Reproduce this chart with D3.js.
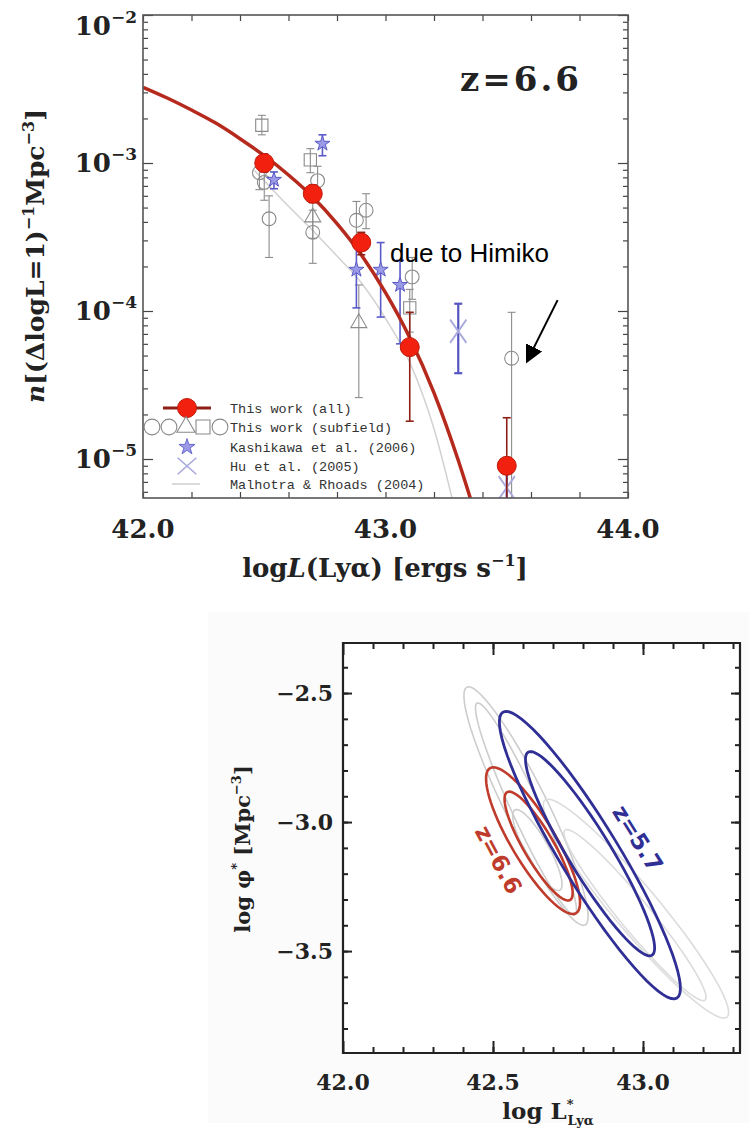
<!DOCTYPE html>
<html>
<head>
<meta charset="utf-8">
<script src="https://cdn.jsdelivr.net/npm/d3@7"></script>
<style>
  body { margin: 0; background: #fff; }
  svg { display: block; }
</style>
</head>
<body>
<script>
// ---------- top panel data: Lya luminosity function at z=6.6 ----------
const allLum = [42.5, 42.7, 42.9, 43.1, 43.5];
const allN = [1.0e-3, 6.2e-4, 2.9e-4, 5.7e-5, 9.0e-6];
const allLo = [8.7e-4, 5.4e-4, 2.4e-4, 1.8e-5, 1e-6];
const allHi = [1.15e-3, 7.1e-4, 3.4e-4, 9.8e-5, 1.9e-5];

const subShape = ['square', 'circle', 'circle', 'circle',
  'square', 'circle', 'triangle', 'circle',
  'circle', 'circle', 'triangle',
  'circle', 'square', 'circle'];
const subLum = [42.49, 42.48, 42.50, 42.52,
  42.69, 42.72, 42.70, 42.70,
  42.92, 42.88, 42.89,
  43.11, 43.10, 43.52];
const subN = [1.8e-3, 8.6e-4, 7.4e-4, 4.2e-4,
  1.05e-3, 7.6e-4, 4.3e-4, 3.4e-4,
  4.8e-4, 4.1e-4, 8.3e-5,
  1.7e-4, 1.05e-4, 4.8e-5];
const subLo = [1.55e-3, 6.6e-4, 5.6e-4, 2.3e-4,
  8.6e-4, 6.0e-4, 3.1e-4, 2.1e-4,
  3.6e-4, 3.0e-4, 2.6e-5,
  1.2e-4, 7.2e-5, 1e-6];
const subHi = [2.1e-3, 1.08e-3, 9.4e-4, 6.0e-4,
  1.25e-3, 9.5e-4, 5.5e-4, 4.8e-4,
  6.2e-4, 5.5e-4, 1.5e-4,
  2.3e-4, 1.4e-4, 9.8e-5];

const kashLum = [42.54, 42.74, 42.88, 42.98, 43.06];
const kashN = [7.7e-4, 1.35e-3, 1.9e-4, 1.9e-4, 1.5e-4];
const kashLo = [6.7e-4, 1.12e-3, 1.05e-4, 9.1e-5, 6.0e-5];
const kashHi = [8.7e-4, 1.55e-3, 3.0e-4, 2.9e-4, 2.2e-4];

const huLum = [43.30, 43.50];
const huN = [7.3e-5, 6.4e-6];
const huLo = [3.8e-5, 4.5e-6];
const huHi = [1.12e-4, 8.0e-6];

// best-fit curve (this work)
const fitLum = [42.0, 42.1, 42.2, 42.3, 42.4, 42.5, 42.6, 42.7, 42.8, 42.9, 43.0, 43.1, 43.2, 43.3, 43.36];
const fitN = [3.25e-3, 2.75e-3, 2.28e-3, 1.86e-3, 1.46e-3, 1.12e-3, 8.3e-4, 5.9e-4, 3.9e-4, 2.4e-4,
  1.33e-4, 6.6e-5, 2.8e-5, 9.8e-6, 4.8e-6];

// Malhotra & Rhoads (2004)
const mrLum = [42.46, 42.6, 42.7, 42.8, 42.9, 43.0, 43.1, 43.2, 43.28];
const mrN = [8.9e-4, 5.1e-4, 3.5e-4, 2.35e-4, 1.55e-4, 8.9e-5, 4.5e-5, 1.6e-5, 5.0e-6];

const yDecades = [1e-5, 1e-4, 1e-3, 1e-2];
const yDecadeExp = ['−5', '−4', '−3', '−2'];
const xLabelsTop = [42, 43, 44];

// ---------- bottom panel data: error contours of L* and phi* ----------
const contourSet = ['alt66', 'alt66', 'alt66', 'alt57', 'alt57',
  'z66', 'z66', 'z57', 'z57'];
const contourTipA = [[42.413, -2.477], [42.447, -2.539], [42.573, -2.953], [42.673, -2.915], [42.740, -3.031],
  [42.490, -2.791], [42.547, -2.884], [42.533, -2.574], [42.617, -2.729]];
const contourTipB = [[42.807, -3.399], [42.773, -3.360], [42.723, -3.264], [43.280, -3.756], [43.207, -3.690],
  [42.777, -3.353], [42.757, -3.302], [43.113, -3.682], [43.030, -3.516]];
const contourRatio = [0.16, 0.12, 0.25, 0.16, 0.14, 0.26, 0.24, 0.175, 0.18];

const xTicksBottom = [42.0, 42.5, 43.0];
const yTicksBottom = [-2.5, -3.0, -3.5];

// ---------- svg ----------
const W = 749, H = 1133;
const svg = d3.select('body').append('svg').attr('width', W).attr('height', H)
  .attr('font-family', '"DejaVu Serif", serif');

// ================= top panel =================
const tp = { left: 143, right: 628, top: 15, bottom: 498 };
const x1 = d3.scaleLinear().domain([42, 44]).range([tp.left, tp.right]);
const y1 = d3.scaleLog().domain([Math.pow(10, -5.2635), 1e-2]).range([tp.bottom, tp.top]);

svg.append('clipPath').attr('id', 'clipTop')
  .append('rect').attr('x', tp.left).attr('y', tp.top)
  .attr('width', tp.right - tp.left).attr('height', tp.bottom - tp.top);

const topG = svg.append('g');
const plot = topG.append('g').attr('clip-path', 'url(#clipTop)');

// minor log ticks
const yMinor = [];
for (let d = -6; d <= -3; d++) {
  for (let k = 2; k <= 9; k++) {
    const v = k * Math.pow(10, d);
    if (v > y1.domain()[0] && v < 1e-2) yMinor.push(v);
  }
}
const xMinor = d3.range(42, 44.001, 0.2);

function axisG(gen, tx, ty) {
  const g = topG.append('g').attr('transform', `translate(${tx},${ty})`).call(gen);
  g.select('.domain').remove();
  g.selectAll('line').attr('stroke', '#444').attr('stroke-width', 1.2);
  g.selectAll('text').remove();
  return g;
}
axisG(d3.axisBottom(x1).tickValues(xMinor).tickSize(-6), 0, tp.bottom);
axisG(d3.axisTop(x1).tickValues(xMinor).tickSize(-6), 0, tp.top);
axisG(d3.axisLeft(y1).tickValues(yMinor).tickSize(-5), tp.left, 0);
axisG(d3.axisLeft(y1).tickValues(yDecades).tickSize(-10), tp.left, 0);
axisG(d3.axisRight(y1).tickValues(yMinor).tickSize(-5), tp.right, 0);
axisG(d3.axisRight(y1).tickValues(yDecades).tickSize(-10), tp.right, 0);

topG.append('rect')
  .attr('x', tp.left).attr('y', tp.top)
  .attr('width', tp.right - tp.left).attr('height', tp.bottom - tp.top)
  .attr('fill', 'none').attr('stroke', '#555').attr('stroke-width', 1.6);

// tick labels
topG.selectAll('.xl').data(xLabelsTop).enter().append('text')
  .attr('x', d => x1(d)).attr('y', 538).attr('fill', '#222')
  .attr('text-anchor', 'middle').attr('font-size', 26).attr('font-weight', 'bold')
  .text(d => d.toFixed(1));

// the top label sits below its tick so it stays inside the page
const yl = topG.selectAll('.yl').data(yDecades).enter().append('text')
  .attr('x', 137).attr('y', d => d === 1e-2 ? y1(d) + 20 : y1(d) + 9).attr('fill', '#222')
  .attr('text-anchor', 'end').attr('font-size', 26).attr('font-weight', 'bold');
yl.append('tspan').text('10');
yl.append('tspan').attr('dy', -12).attr('font-size', 17).text((d, i) => yDecadeExp[i]);

// axis titles
const ytitle = topG.append('text')
  .attr('transform', 'translate(44,256) rotate(-90)').attr('fill', '#222')
  .attr('text-anchor', 'middle').attr('font-size', 25).attr('font-weight', 'bold');
ytitle.append('tspan').attr('font-style', 'italic').text('n');
ytitle.append('tspan').text('[(ΔlogL=1)');
ytitle.append('tspan').attr('dy', -10).attr('font-size', 16).text('−1');
ytitle.append('tspan').attr('dy', 10).text('Mpc');
ytitle.append('tspan').attr('dy', -10).attr('font-size', 16).text('−3');
ytitle.append('tspan').attr('dy', 10).text(']');

const xtitle = topG.append('text')
  .attr('x', 385).attr('y', 577).attr('fill', '#222')
  .attr('text-anchor', 'middle').attr('font-size', 26).attr('font-weight', 'bold');
xtitle.append('tspan').text('log');
xtitle.append('tspan').attr('font-style', 'italic').text('L');
xtitle.append('tspan').text('(Lyα) [ergs s');
xtitle.append('tspan').attr('dy', -11).attr('font-size', 16).text('−1');
xtitle.append('tspan').attr('dy', 11).text(']');

topG.append('text')
  .attr('x', 460).attr('y', 91).attr('fill', '#222')
  .attr('font-size', 34).attr('font-weight', 'bold').attr('letter-spacing', 3)
  .text('z=6.6');

// Malhotra & Rhoads line
const line1 = d3.line().x(d => x1(d[0])).y(d => y1(d[1])).curve(d3.curveMonotoneX);
plot.append('path')
  .attr('d', line1(d3.zip(mrLum, mrN)))
  .attr('fill', 'none').attr('stroke', '#d2d2d2').attr('stroke-width', 1.5);

function errBars(g, lum, lo, hi, color, sw) {
  const eg = g.append('g').attr('stroke', color).attr('stroke-width', sw);
  lum.forEach((l, i) => {
    const xx = x1(l);
    eg.append('line').attr('x1', xx).attr('x2', xx).attr('y1', y1(lo[i])).attr('y2', y1(hi[i]));
    eg.append('line').attr('x1', xx - 4).attr('x2', xx + 4).attr('y1', y1(lo[i])).attr('y2', y1(lo[i]));
    eg.append('line').attr('x1', xx - 4).attr('x2', xx + 4).attr('y1', y1(hi[i])).attr('y2', y1(hi[i]));
  });
}

const shapeSym = { circle: d3.symbolCircle, square: d3.symbolSquare, triangle: d3.symbolTriangle };
const shapeSize = { circle: 150, square: 150, triangle: 110 };

// subfield points
errBars(plot, subLum, subLo, subHi, '#8c8c8c', 1.1);
plot.selectAll('.sub').data(subLum).enter().append('path')
  .attr('transform', (d, i) => `translate(${x1(d)},${y1(subN[i])})`)
  .attr('d', (d, i) => d3.symbol(shapeSym[subShape[i]], shapeSize[subShape[i]])())
  .attr('fill', 'none').attr('stroke', '#8a8a8a').attr('stroke-width', 1.1);

// Kashikawa
errBars(plot, kashLum, kashLo, kashHi, '#5a5ac8', 1.6);
plot.selectAll('.kash').data(kashLum).enter().append('path')
  .attr('transform', (d, i) => `translate(${x1(d)},${y1(kashN[i])})`)
  .attr('d', d3.symbol(d3.symbolStar, 70)())
  .attr('fill', '#9a9ae6').attr('stroke', '#5a5ac8').attr('stroke-width', 1);

// Hu
errBars(plot, huLum, huLo, huHi, '#5555c0', 2.2);
plot.selectAll('.hu').data(huLum).enter().append('path')
  .attr('transform', (d, i) => `translate(${x1(d)},${y1(huN[i])}) scale(1.4,2)`)
  .attr('d', d3.symbol(d3.symbolTimes, 90)())
  .attr('fill', 'none').attr('stroke', '#aaaadd').attr('stroke-width', 1.2);

// best fit
plot.append('path')
  .attr('d', line1(d3.zip(fitLum, fitN)))
  .attr('fill', 'none').attr('stroke', '#b52a1c').attr('stroke-width', 3.5);

// this work (all)
errBars(plot, allLum, allLo, allHi, '#8e1f14', 1.6);
plot.selectAll('.all').data(allLum).enter().append('circle')
  .attr('cx', d => x1(d)).attr('cy', (d, i) => y1(allN[i])).attr('r', 9.5)
  .attr('fill', '#f2200e').attr('stroke', '#c01a0a').attr('stroke-width', 1);

// legend
const lg = topG.append('g');
const lgY = [408, 427, 447, 466, 484];
const lgText = ['This work (all)', 'This work (subfield)', 'Kashikawa et al. (2006)', 'Hu et al. (2005)', 'Malhotra & Rhoads (2004)'];
lg.selectAll('text').data(lgText).enter().append('text')
  .attr('x', 230).attr('y', (d, i) => lgY[i] + 5)
  .attr('font-family', '"Liberation Mono", monospace')
  .attr('font-size', 13.5).attr('fill', '#333')
  .text(d => d);
lg.append('line').attr('x1', 163).attr('x2', 211).attr('y1', lgY[0]).attr('y2', lgY[0])
  .attr('stroke', '#8e1f14').attr('stroke-width', 3);
lg.append('circle').attr('cx', 187).attr('cy', lgY[0]).attr('r', 9.5)
  .attr('fill', '#f2200e').attr('stroke', '#c01a0a');
const lgShapes = ['circle', 'circle', 'triangle', 'square', 'circle'];
lgShapes.forEach((s, i) => {
  lg.append('path').attr('transform', `translate(${152 + i * 17},${lgY[1]})`)
    .attr('d', d3.symbol(shapeSym[s], shapeSize[s] * 1.3)())
    .attr('fill', 'none').attr('stroke', '#8a8a8a').attr('stroke-width', 1.1);
});
lg.append('path').attr('transform', `translate(187,${lgY[2]})`)
  .attr('d', d3.symbol(d3.symbolStar, 80)())
  .attr('fill', '#9a9ae6').attr('stroke', '#6a6ad0');
lg.append('path').attr('transform', `translate(187,${lgY[3]}) scale(1.6,1.4)`)
  .attr('d', d3.symbol(d3.symbolTimes, 90)())
  .attr('fill', 'none').attr('stroke', '#aaaadd').attr('stroke-width', 1);
lg.append('line').attr('x1', 172).attr('x2', 200).attr('y1', lgY[4]).attr('y2', lgY[4])
  .attr('stroke', '#cfcfcf').attr('stroke-width', 1.5);

// annotation
svg.append('defs').append('marker')
  .attr('id', 'arrow').attr('viewBox', '0 0 10 10').attr('refX', 8).attr('refY', 5)
  .attr('markerWidth', 18).attr('markerHeight', 18).attr('markerUnits', 'userSpaceOnUse')
  .attr('orient', 'auto')
  .append('path').attr('d', 'M0,0 L10,5 L0,10 z').attr('fill', '#000');
const hx = x1(subLum[13]), hy = y1(subN[13]);
topG.append('line')
  .attr('x1', hx + 46).attr('y1', hy - 58).attr('x2', hx + 16).attr('y2', hy + 2)
  .attr('stroke', '#000').attr('stroke-width', 2).attr('marker-end', 'url(#arrow)');
topG.append('text')
  .attr('x', 390).attr('y', 262)
  .attr('font-family', '"Liberation Sans", Arial, sans-serif')
  .attr('font-size', 26).attr('fill', '#000')
  .text('due to Himiko');

// ================= bottom panel =================
svg.append('rect').attr('x', 208).attr('y', 612).attr('width', W - 208).attr('height', 511)
  .attr('fill', '#fbfbfb');

const bp = { left: 343, right: 740, top: 643, bottom: 1053 };
const x2 = d3.scaleLinear().domain([42, 42 + (bp.right - bp.left) / 300]).range([bp.left, bp.right]);
const y2 = d3.scaleLinear().domain([-3.895, -2.306]).range([bp.bottom, bp.top]);

const botG = svg.append('g');
botG.append('rect')
  .attr('x', bp.left).attr('y', bp.top)
  .attr('width', bp.right - bp.left).attr('height', bp.bottom - bp.top)
  .attr('fill', '#fff');

svg.append('clipPath').attr('id', 'clipBot')
  .append('rect').attr('x', bp.left).attr('y', bp.top)
  .attr('width', bp.right - bp.left).attr('height', bp.bottom - bp.top);

function axisB(gen, tx, ty) {
  const g = botG.append('g').attr('transform', `translate(${tx},${ty})`).call(gen);
  g.select('.domain').remove();
  g.selectAll('line').attr('stroke', '#222').attr('stroke-width', 2);
  g.selectAll('text').remove();
}
const bxMinor = d3.range(42.1, 43.31, 0.1);
const byMinor = d3.range(-3.8, -2.35, 0.1);
axisB(d3.axisBottom(x2).tickValues(bxMinor).tickSize(-6), 0, bp.bottom);
axisB(d3.axisBottom(x2).tickValues(xTicksBottom).tickSize(-12), 0, bp.bottom);
axisB(d3.axisTop(x2).tickValues(bxMinor).tickSize(-6), 0, bp.top);
axisB(d3.axisTop(x2).tickValues(xTicksBottom).tickSize(-12), 0, bp.top);
axisB(d3.axisLeft(y2).tickValues(byMinor).tickSize(-5), bp.left, 0);
axisB(d3.axisLeft(y2).tickValues(yTicksBottom).tickSize(-9), bp.left, 0);
axisB(d3.axisRight(y2).tickValues(byMinor).tickSize(-5), bp.right, 0);
axisB(d3.axisRight(y2).tickValues(yTicksBottom).tickSize(-9), bp.right, 0);

botG.append('path')
  .attr('d', `M${bp.left},${bp.top}H${bp.right}V${bp.bottom}H${bp.left}Z`)
  .attr('fill', 'none').attr('stroke', '#222').attr('stroke-width', 2.2);

botG.selectAll('.bxl').data(xTicksBottom).enter().append('text')
  .attr('x', d => x2(d)).attr('y', 1090).attr('fill', '#222')
  .attr('text-anchor', 'middle').attr('font-size', 22).attr('font-weight', 'bold')
  .text(d => d.toFixed(1));
botG.selectAll('.byl').data(yTicksBottom).enter().append('text')
  .attr('x', 333).attr('y', d => y2(d) + 8).attr('fill', '#222')
  .attr('text-anchor', 'end').attr('font-size', 22).attr('font-weight', 'bold')
  .text(d => '−' + Math.abs(d).toFixed(1));

const bytitle = botG.append('text')
  .attr('transform', 'translate(250,849) rotate(-90)').attr('fill', '#222')
  .attr('text-anchor', 'middle').attr('font-size', 21).attr('font-weight', 'bold');
bytitle.append('tspan').text('log φ');
bytitle.append('tspan').attr('dy', -9).attr('font-size', 13).text('*');
bytitle.append('tspan').attr('dy', 9).text(' [Mpc');
bytitle.append('tspan').attr('dy', -9).attr('font-size', 13).text('−3');
bytitle.append('tspan').attr('dy', 9).text(']');

const bxtitle = botG.append('text')
  .attr('x', 548).attr('y', 1119).attr('fill', '#222')
  .attr('text-anchor', 'middle').attr('font-size', 23).attr('font-weight', 'bold');
bxtitle.append('tspan').text('log L');
bxtitle.append('tspan').attr('dy', -10).attr('font-size', 13).text('*');
bxtitle.append('tspan').attr('dx', -6).attr('dy', 16).attr('font-size', 13).text('Lyα');

// contours
const cplot = botG.append('g').attr('clip-path', 'url(#clipBot)');
const cColor = { alt66: '#cdcdcd', alt57: '#dcdcdc', z66: '#bf3b2b', z57: '#2f2f96' };
const cWidth = { alt66: 1.6, alt57: 1.6, z66: 2.6, z57: 2.8 };
function ellipse(a, b, ratio) {
  const ax = x2(a[0]), ay = y2(a[1]), bx = x2(b[0]), by = y2(b[1]);
  const cx = (ax + bx) / 2, cy = (ay + by) / 2;
  const A = Math.hypot(bx - ax, by - ay) / 2, B = A * ratio;
  const th = Math.atan2(by - ay, bx - ax);
  const pts = d3.range(72).map(i => {
    const t = i / 72 * 2 * Math.PI;
    return [cx + A * Math.cos(t) * Math.cos(th) - B * Math.sin(t) * Math.sin(th),
            cy + A * Math.cos(t) * Math.sin(th) + B * Math.sin(t) * Math.cos(th)];
  });
  return d3.line().curve(d3.curveLinearClosed)(pts);
}
cplot.selectAll('.ct').data(contourSet).enter().append('path')
  .attr('d', (d, i) => ellipse(contourTipA[i], contourTipB[i], contourRatio[i]))
  .attr('fill', 'none')
  .attr('stroke', d => cColor[d])
  .attr('stroke-width', d => cWidth[d]);

// labels for contours
botG.append('text')
  .attr('transform', `translate(${x2(42.495)},${y2(-3.16)}) rotate(62)`)
  .attr('text-anchor', 'middle')
  .attr('font-family', '"DejaVu Sans", sans-serif')
  .attr('font-weight', 'bold').attr('font-size', 23).attr('fill', '#bf3b2b')
  .text('z=6.6');
botG.append('text')
  .attr('transform', `translate(${x2(42.96)},${y2(-3.08)}) rotate(58)`)
  .attr('text-anchor', 'middle')
  .attr('font-family', '"DejaVu Sans", sans-serif')
  .attr('font-weight', 'bold').attr('font-size', 23).attr('fill', '#2f2f96')
  .text('z=5.7');
</script>
</body>
</html>
